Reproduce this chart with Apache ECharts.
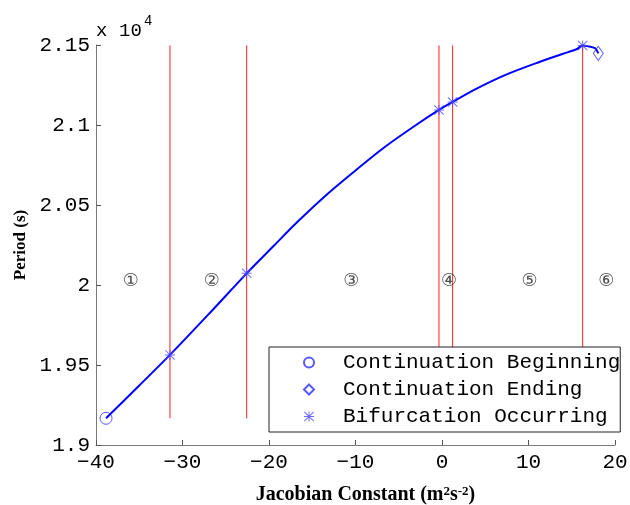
<!DOCTYPE html>
<html>
<head>
<meta charset="utf-8">
<script src="https://cdn.jsdelivr.net/npm/echarts@6/dist/echarts.min.js"></script>
<style>html,body{margin:0;padding:0;background:#fff;}#chart{width:630px;height:505px;}</style>
</head>
<body>
<div id="chart"></div>
<script>
// Period (x 10^4 s) vs Jacobian constant
const curveX = [-38.84, -35.0, -31.45, -26.9, -22.58, -19.5, -16.88, -13.5, -10.0, -6.5, -3.0, -0.35, 1.23, 4.0, 7.48, 11.33, 14.0, 15.6, 16.26, 16.8, 17.69, 18.07];
const curveY = [1.9167, 1.9372, 1.9563, 1.9822, 2.0073, 2.0242, 2.0386, 2.0557, 2.0716, 2.0867, 2.1000, 2.1094, 2.1144, 2.1227, 2.1316, 2.1395, 2.1445, 2.1475, 2.1497, 2.1493, 2.1480, 2.1448];
const beginX = [-38.84];
const beginY = [1.9167];
const endX = [18.07];
const endY = [2.1448];
const bifX = [-31.45, -22.58, -0.35, 1.23, 16.26];
const bifY = [1.9563, 2.0073, 2.1094, 2.1144, 2.1497];
const regionLabels = ['①', '②', '③', '④', '⑤', '⑥'];
const regionX = [-35.98, -26.61, -10.49, 0.81, 10.13, 19.0];
const regionY = [2.002, 2.002, 2.002, 2.002, 2.002, 2.002];
const legendNames = ['Continuation Beginning', 'Continuation Ending', 'Bifurcation Occurring'];
const xTicks = [-40, -30, -20, -10, 0, 10, 20];
const yTicks = [1.9, 1.95, 2, 2.05, 2.1, 2.15];

const zip = (xs, ys) => xs.map((x, i) => [x, ys[i]]);
const lineMin = Math.min(...curveY);
const lineMax = Math.max(...curveY);
const BLUE = '#0000ff';
const RED = '#ff2020';
const asterisk = 'path://M0,4.5L10,4.5L10,5.5L0,5.5Z M4.5,0L5.5,0L5.5,10L4.5,10Z M0.7,0L10,9.3L9.3,10L0,0.7Z M9.3,0L10,0.7L0.7,10L0,9.3Z';
const mono = 'Liberation Mono';
const serif = 'Liberation Serif';

const redLineSeries = bifX.map((x, i) => ({
  name: 'boundary' + i, type: 'line', data: [[x, lineMin], [x, lineMax]],
  symbol: 'none', showSymbol: false, silent: true,
  lineStyle: {color: RED, width: 1}, itemStyle: {color: RED}, z: 2
}));

const chart = echarts.init(document.getElementById('chart'), null, {renderer: 'canvas'});
chart.setOption({
  animation: false,
  backgroundColor: '#fff',
  grid: {left: 96, right: 15, top: 45, bottom: 60, containLabel: false, outerBoundsMode: 'none'},
  xAxis: {
    type: 'value', min: xTicks[0], max: xTicks[xTicks.length - 1], interval: 10,
    splitLine: {show: false},
    axisLine: {onZero: false, lineStyle: {color: '#7a7a7a', width: 1}},
    axisTick: {inside: true, length: 5, lineStyle: {color: '#555'}},
    axisLabel: {fontFamily: mono, fontSize: 21, color: '#000', margin: 7,
      formatter: v => String(v).replace('-', '\u2212')},
    name: '{t|Jacobian Constant (m}{s|2}{t|s}{s|-2}{t|)}',
    nameLocation: 'middle', nameGap: 40,
    nameTextStyle: {padding: [0, 0, 0, 20],
      rich: {
        t: {fontFamily: serif, fontWeight: 'bold', fontSize: 20, color: '#000'},
        s: {fontFamily: serif, fontWeight: 'bold', fontSize: 13, color: '#000', verticalAlign: 'top'}
      }}
  },
  yAxis: {
    type: 'value', min: yTicks[0], max: yTicks[yTicks.length - 1], interval: 0.05,
    splitLine: {show: false},
    axisLine: {show: true, onZero: false, lineStyle: {color: '#7a7a7a', width: 1}},
    axisTick: {show: true, inside: true, length: 5, lineStyle: {color: '#555'}},
    axisLabel: {fontFamily: mono, fontSize: 21, color: '#000', margin: 6,
      formatter: v => String(+v.toFixed(2))},
    name: 'Period (s)', nameLocation: 'middle', nameGap: 63, nameRotate: 90,
    nameTextStyle: {fontFamily: serif, fontWeight: 'bold', fontSize: 17, color: '#000'}
  },
  legend: {
    data: legendNames,
    orient: 'vertical', left: 269, top: 347,
    padding: [5, 0, 5, 34],
    itemGap: 6, itemWidth: 10, itemHeight: 10,
    backgroundColor: '#fff', borderColor: '#222', borderWidth: 1, borderRadius: 0,
    textStyle: {fontFamily: mono, fontSize: 21, color: '#000', padding: [0, 0, 0, 24], lineHeight: 21}
  },
  graphic: [
    {type: 'text', left: 96, top: 21,
      style: {text: 'x', font: '19px "Liberation Mono"', fill: '#000'}},
    {type: 'text', left: 119, top: 21,
      style: {text: '10', font: '19px "Liberation Mono"', fill: '#000'}},
    {type: 'text', left: 144, top: 14,
      style: {text: '4', font: '14px "Liberation Mono"', fill: '#000'}}
  ],
  series: [
    ...redLineSeries,
    {
      name: 'curve', type: 'line', data: zip(curveX, curveY),
      showSymbol: false, symbol: 'none', smooth: 0.3,
      lineStyle: {color: BLUE, width: 2}, z: 3
    },
    {
      name: legendNames[0], type: 'scatter', data: zip(beginX, beginY),
      symbol: 'circle', symbolSize: 12,
      itemStyle: {color: 'rgba(0,0,0,0)', borderColor: '#3030ff', borderWidth: 1}, z: 4
    },
    {
      name: legendNames[1], type: 'scatter', data: zip(endX, endY),
      symbol: 'diamond', symbolSize: [10, 14],
      itemStyle: {color: 'rgba(0,0,0,0)', borderColor: '#3030ff', borderWidth: 1}, z: 4
    },
    {
      name: legendNames[2], type: 'scatter', data: zip(bifX, bifY),
      symbol: asterisk, symbolSize: 10,
      itemStyle: {color: '#4848ff'}, z: 4
    },
    {
      name: 'regions', type: 'scatter', data: zip(regionX, regionY),
      symbolSize: 1, itemStyle: {color: 'rgba(0,0,0,0)'}, silent: true,
      label: {show: true, position: 'inside', fontFamily: 'DejaVu Sans', fontSize: 18, color: '#222',
        formatter: p => regionLabels[p.dataIndex]}
    }
  ]
});
</script>
</body>
</html>
